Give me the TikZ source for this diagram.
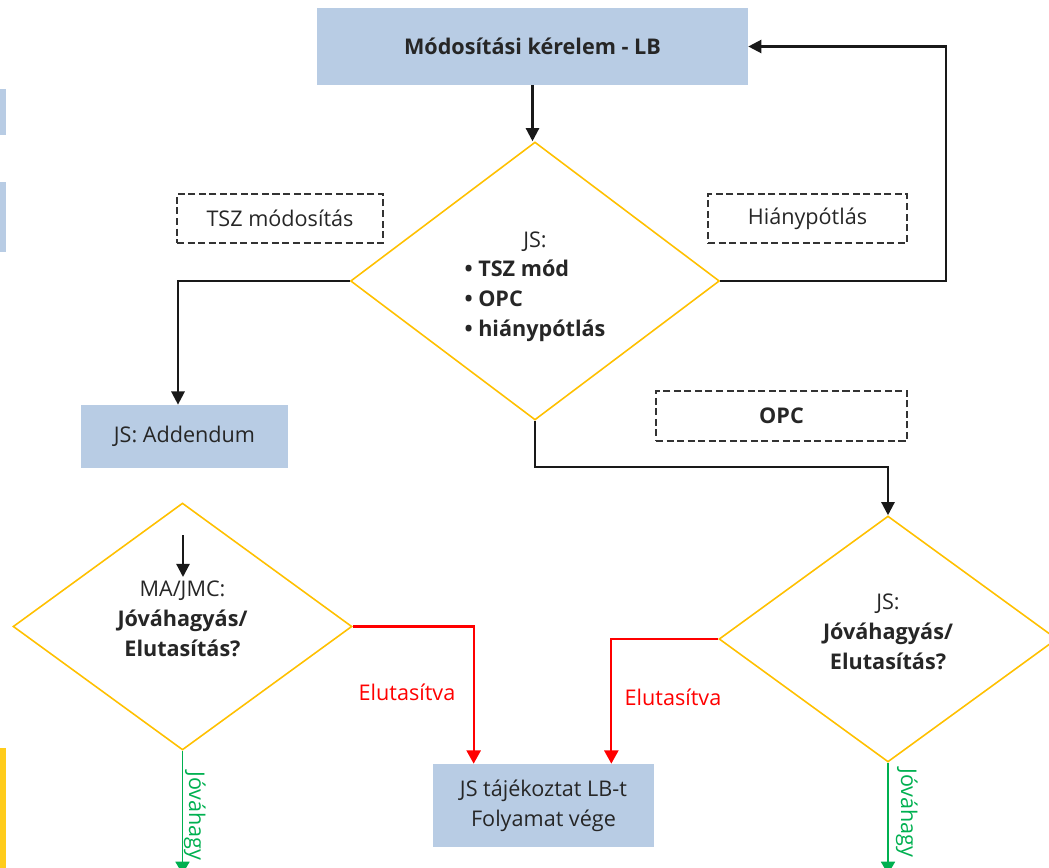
\documentclass[tikz,border=0pt]{standalone}
\usepackage{fontspec}
\setmainfont{Open Sans}
\usetikzlibrary{shapes.geometric,arrows.meta}
\definecolor{boxblue}{HTML}{B8CCE4}
\definecolor{choiceyellow}{HTML}{FFC000}
\definecolor{stripyellow}{HTML}{FFCC1A}
\definecolor{rejectred}{HTML}{FF0000}
\definecolor{okgreen}{HTML}{00B050}
\definecolor{textgray}{HTML}{262626}
\tikzset{
  stepbox/.style={rectangle, fill=boxblue, text=textgray, align=center, inner sep=0pt},
  choice/.style={diamond, draw=choiceyellow, line width=0.9pt, align=center, inner sep=0pt, text=textgray},
  notebox/.style={rectangle, draw=black!80, dash pattern=on 4pt off 2pt, line width=0.8pt, text=textgray},
  flow/.style={draw=black!90, line width=1.3pt, -{Triangle[width=7.5pt,length=7.5pt]}},
  reject/.style={draw=rejectred, line width=1.2pt, -{Triangle[width=8pt,length=7.5pt]}},
  approve/.style={draw=okgreen, line width=0.9pt, -{Triangle[width=8pt,length=7pt]}},
}
\begin{document}
\begin{tikzpicture}[x=0.02cm,y=-0.02cm,font=\fontsize{12.3}{17}\selectfont]
\useasboundingbox (0,0) rectangle (1049,868);
\fill[boxblue] (0,89) rectangle (6,135);
\fill[boxblue] (0,182) rectangle (6,252);
\fill[stripyellow] (0,748) rectangle (6,868);

\node[stepbox, minimum width=8.62cm, minimum height=1.54cm] (kerelem) at (532.5,46.5) {\textbf{Módosítási kérelem - LB}};
\node[choice, minimum width=7.38cm, minimum height=5.56cm] (jsvalaszt) at (535,281)
  {\rule{0pt}{17.5pt}JS:\\\begin{tabular}[t]{@{}l@{}}\textbf{\textbullet}~\textbf{TSZ mód}\\\textbf{\textbullet}~\textbf{OPC}\\\textbf{\textbullet}~\textbf{hiánypótlás}\end{tabular}};
\node[notebox, minimum width=4.12cm, minimum height=0.98cm] (tszmod) at (280,218.5) {TSZ módosítás};
\node[notebox, minimum width=3.98cm, minimum height=0.98cm] (hiany) at (807.5,218.5) {Hiánypótlás};
\node[notebox, minimum width=5.02cm, minimum height=1cm] (opc) at (781.5,416) {\textbf{OPC}};
\node[stepbox, minimum width=4.14cm, minimum height=1.26cm] (addendum) at (184.5,436.5) {JS: Addendum};
\node[choice, minimum width=6.78cm, minimum height=4.94cm] (majmc) at (182.5,626.5)
  {MA/JMC:\\\textbf{Jóváhagyás/}\\\rule[-8.7pt]{0pt}{1pt}\textbf{Elutasítás?}};
\node[choice, minimum width=6.76cm, minimum height=4.92cm] (jsopc) at (888,639)
  {JS:\\\textbf{Jóváhagyás/}\\\rule[-8.7pt]{0pt}{1pt}\textbf{Elutasítás?}};
\node[stepbox, minimum width=4.42cm, minimum height=1.66cm] (vege) at (543.5,805.5) {JS tájékoztat LB-t\\Folyamat vége};

\coordinate (vissza) at (946,281);
\coordinate (belep) at (183,535);
\coordinate (belepveg) at (183,577);
\coordinate (jovavege1) at (182.5,874);
\coordinate (jovavege2) at (888,874);

\draw[flow] (kerelem.south) -- (kerelem.south |- jsvalaszt.north);
\draw[flow] (jsvalaszt.east) -- (vissza) |- (kerelem.east);
\draw[flow] (jsvalaszt.west) -| ([xshift=-0.13cm]addendum.north);
\draw[flow] (jsvalaszt.south) -- ++(0,46) -| (jsopc.north);
\draw[flow] (belep) -- (belepveg);

\draw[reject] (majmc.east) -| ([xshift=0.82cm]vege.north west);
\draw[reject] (jsopc.west) -| ([xshift=-0.86cm]vege.north east);
\node[text=rejectred] (elut1) at (407,692) {Elutasítva};
\node[text=rejectred] (elut2) at (673,697) {Elutasítva};

\draw[approve] (majmc.south) -- (jovavege1);
\draw[approve] (jsopc.south) -- (jovavege2);
\node[text=okgreen, rotate=-90, anchor=base west, inner sep=0pt] (jova1) at (189,771) {Jóváhagy};
\node[text=okgreen, rotate=-90, anchor=base west, inner sep=0pt] (jova2) at (901,768) {Jóváhagy};
\end{tikzpicture}
\end{document}
